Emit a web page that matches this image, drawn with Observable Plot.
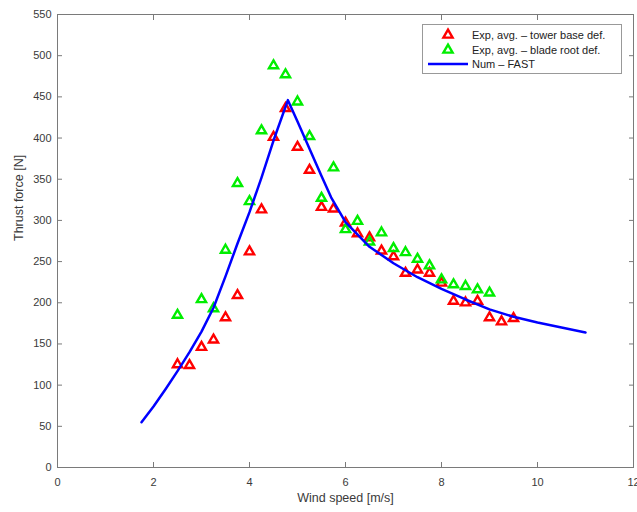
<!DOCTYPE html>
<html>
<head>
<meta charset="utf-8">
<script src="https://cdn.jsdelivr.net/npm/d3@7"></script>
<script src="https://cdn.jsdelivr.net/npm/@observablehq/plot@0.6"></script>
<style>
  body { margin: 0; background: #fff; }
  #wrap { position: relative; width: 637px; height: 512px; font-family: "Liberation Sans", Arial, sans-serif; }
  #legend { position: absolute; left: 422px; top: 24px; width: 198px; height: 48px; border: 1px solid #999; background: #fff; }
  #legend svg { display: block; }
</style>
</head>
<body>
<div id="wrap"><div id="legend"></div></div>
<script>
// Experimental, averaged – tower base deformation
const windTower = [2.5, 2.75, 3.0, 3.25, 3.5, 3.75, 4.0, 4.25, 4.5, 4.75, 5.0, 5.25, 5.5, 5.75, 6.0, 6.25, 6.5, 6.75, 7.0, 7.25, 7.5, 7.75, 8.0, 8.25, 8.5, 8.75, 9.0, 9.25, 9.5];
const thrustTower = [125, 124, 146, 155, 182, 209, 262, 313, 401, 436, 389, 361, 316, 314, 297, 284, 279, 263, 256, 236, 240, 236, 224, 202, 200, 202, 182, 177, 181];

// Experimental, averaged – blade root deformation
const windBlade = [2.5, 3.0, 3.25, 3.5, 3.75, 4.0, 4.25, 4.5, 4.75, 5.0, 5.25, 5.5, 5.75, 6.0, 6.25, 6.5, 6.75, 7.0, 7.25, 7.5, 7.75, 8.0, 8.25, 8.5, 8.75, 9.0];
const thrustBlade = [185, 204, 193, 264, 345, 323, 409, 488, 477, 444, 402, 327, 364, 289, 299, 274, 285, 266, 261, 253, 245, 228, 222, 220, 216, 212];

// Numerical – FAST
const windFast = [1.75, 2.0, 2.25, 2.5, 2.75, 3.0, 3.25, 3.5, 3.75, 4.0, 4.25, 4.5, 4.8, 5.0, 5.5, 5.7, 6.0, 6.5, 7.0, 7.5, 8.0, 8.5, 9.0, 9.5, 10.0, 10.5, 11.0];
const thrustFast = [55, 74, 95, 117, 140, 165, 194, 232, 272, 310, 352, 397, 446, 420, 354, 328, 298, 268, 248, 231, 217, 204, 192, 183, 176, 170, 164];

const xTicks = [0, 2, 4, 6, 8, 10, 12];
const yTicks = [0, 50, 100, 150, 200, 250, 300, 350, 400, 450, 500, 550];

const seriesNames = ["Exp, avg. \u2013 tower base def.", "Exp, avg. \u2013 blade root def.", "Num \u2013 FAST"];
const seriesColors = ["#ff0000", "#00ee00", "#0000ff"];
const xLabel = "Wind speed [m/s]";
const yLabel = "Thrust force [N]";

const tower = windTower.map((w, i) => ({w, t: thrustTower[i]}));
const blade = windBlade.map((w, i) => ({w, t: thrustBlade[i]}));
const fast = windFast.map((w, i) => ({w, t: thrustFast[i]}));

const axisColor = "#7a7a7a";
const labelColor = "#3a3a3a";

const chart = Plot.plot({
  width: 637,
  height: 512,
  marginLeft: 57,
  marginRight: 4,
  marginTop: 14,
  marginBottom: 45,
  style: { fontFamily: "Liberation Sans, Arial, sans-serif", fontSize: "11px", background: "#fff", color: labelColor },
  x: { domain: [0, 12] },
  y: { domain: [0, 550] },
  marks: [
    Plot.frame({ stroke: axisColor }),
    // inward ticks on all four sides
    Plot.axisX(xTicks, { anchor: "bottom", tickSize: 5, dy: -5, fill: "none", stroke: axisColor, label: null }),
    Plot.axisX(xTicks, { anchor: "top", tickSize: 5, dy: 5, fill: "none", stroke: axisColor, label: null }),
    Plot.axisY(yTicks, { anchor: "left", tickSize: 5, dx: 5, fill: "none", stroke: axisColor, label: null }),
    Plot.axisY(yTicks, { anchor: "right", tickSize: 5, dx: -5, fill: "none", stroke: axisColor, label: null }),
    // tick labels
    Plot.axisX(xTicks, { anchor: "bottom", tickSize: 0, tickPadding: 11, fill: labelColor, label: null }),
    Plot.axisY(yTicks, { anchor: "left", tickSize: 0, tickPadding: 6, fill: labelColor, label: null }),
    // axis titles
    Plot.text([xLabel], { frameAnchor: "bottom", dy: 34, text: d => d, fontSize: 12.5, fill: labelColor }),
    Plot.text([yLabel], { frameAnchor: "left", dx: -39, rotate: -90, text: d => d, fontSize: 12.5, fill: labelColor }),
    // data
    Plot.dot(tower, { x: "w", y: "t", symbol: "triangle", r: 3.4, stroke: seriesColors[0], strokeWidth: 2.4, fill: "none" }),
    Plot.dot(blade, { x: "w", y: "t", symbol: "triangle", r: 3.4, stroke: seriesColors[1], strokeWidth: 2.4, fill: "none" }),
    Plot.line(fast, { x: "w", y: "t", stroke: seriesColors[2], strokeWidth: 2.5, curve: "linear" })
  ]
});
document.getElementById("wrap").prepend(chart);

// legend
const lw = 198, lh = 48;
const lsvg = d3.select("#legend").append("svg").attr("width", lw).attr("height", lh);
const rows = [10, 25, 39];
const tri = d3.symbol(d3.symbolTriangle, Math.PI * 3.4 * 3.4)();
seriesNames.forEach((name, i) => {
  const g = lsvg.append("g").attr("transform", `translate(0,${rows[i]})`);
  if (i < 2) {
    g.append("path").attr("d", tri).attr("transform", "translate(25,0)")
      .attr("fill", "none").attr("stroke", seriesColors[i]).attr("stroke-width", 2.4);
  } else {
    g.append("line").attr("x1", 5).attr("x2", 45).attr("y1", 0).attr("y2", 0)
      .attr("stroke", seriesColors[i]).attr("stroke-width", 2.5);
  }
  g.append("text").attr("x", 49).attr("y", 0).attr("dy", "0.35em")
    .attr("font-size", 11).attr("fill", "#222")
    .attr("font-family", "Liberation Sans, Arial, sans-serif").text(name);
});
</script>
</body>
</html>
